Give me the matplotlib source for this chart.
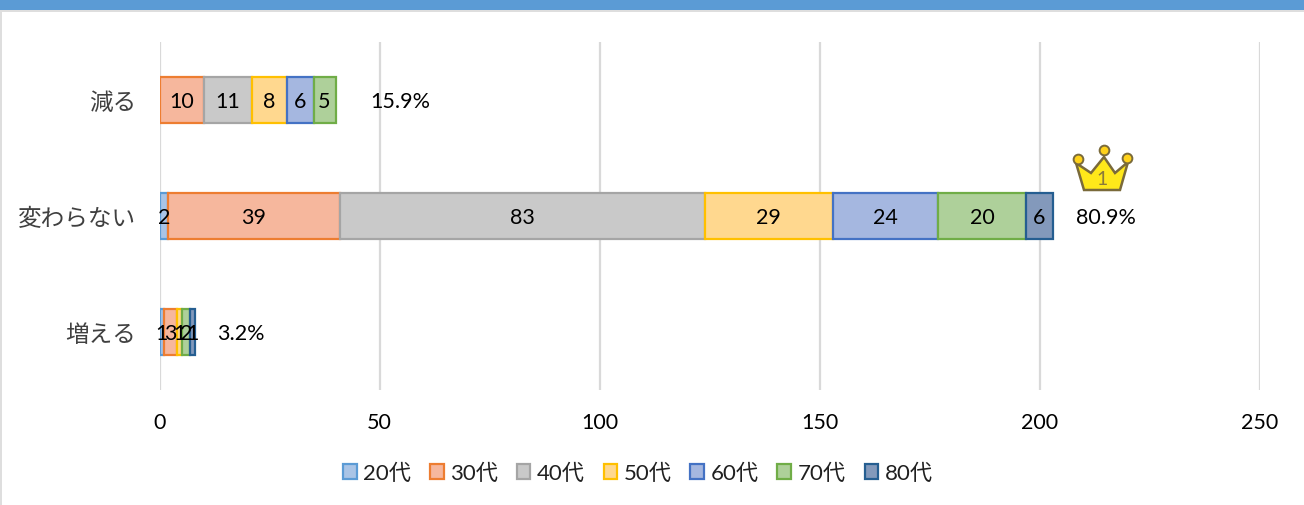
import matplotlib
matplotlib.use("Agg")
import matplotlib.pyplot as plt
from matplotlib.patches import Rectangle, Polygon

plt.rcParams['font.family'] = ['Lato', 'Noto Sans CJK JP', 'DejaVu Sans']

#Data, bottom row first
categories = ['増える', '変わらない', '減る']
series_names = ['20代', '30代', '40代', '50代', '60代', '70代', '80代']
values = {
    '20代': [1, 2, 0],
    '30代': [3, 39, 10],
    '40代': [0, 83, 11],
    '50代': [1, 29, 8],
    '60代': [0, 24, 6],
    '70代': [2, 20, 5],
    '80代': [1, 6, 0],
}
percents = ['3.2%', '80.9%', '15.9%']
x_ticks = [0, 50, 100, 150, 200, 250]

#Fill and edge colours of each age group
fills = ['#a9c4e6', '#f6b79d', '#c9c9c9', '#ffd88f', '#a5b7e0', '#aed09a', '#8399bb']
edges = ['#5b9bd5', '#ed7d31', '#a5a5a5', '#ffc000', '#4472c4', '#70ad47', '#255e91']

W, H = 1304, 506
fig = plt.figure(figsize=(W / 100, H / 100), dpi=100)

#Blue band on top and thin page border
fig.add_artist(Rectangle((0, 1 - 11 / H), 1, 11 / H, transform=fig.transFigure, color='#5b9bd5', lw=0))
fig.add_artist(Rectangle((0, 1 - 13 / H), 1, 2 / H, transform=fig.transFigure, color='#dedede', lw=0))
fig.add_artist(Rectangle((0, 0), 2 / W, 1 - 13 / H, transform=fig.transFigure, color='#dedede', lw=0))

ax = fig.add_axes([159.5 / W, 1 - 391 / H, 1100 / W, 348 / H])
ax.set_xlim(0, 250)
ax.set_ylim(-0.5, 2.5)

left = [0, 0, 0]
for name, fill, edge in zip(series_names, fills, edges):
    vals = values[name]
    #empty segments get no outline, otherwise they show up as a stray line
    widths = [1.6 if v > 0 else 0 for v in vals]
    ax.barh(range(3), vals, left=left, height=0.4, color=fill, edgecolor=edge, linewidth=widths, zorder=3)
    for i, v in enumerate(vals):
        if v > 0:
            ax.text(left[i] + v / 2, i - 0.005, str(v), ha='center', va='center', fontsize=15.5, color='black', zorder=5)
        left[i] += v

#Share of answers written to the right of each bar
pct_offset = [5, 5.2, 8]
for i, p in enumerate(percents):
    ax.text(left[i] + pct_offset[i], i - 0.005, p, ha='left', va='center', fontsize=15.5, color='black', zorder=5)

ax.set_xticks(x_ticks)
ax.set_yticks(range(3))
ax.set_yticklabels(categories, fontsize=17, color='#404040')
ax.tick_params(axis='x', length=0, labelsize=15.5, pad=15.5)
ax.tick_params(axis='y', length=0, pad=17)
ax.grid(axis='x', color='#d9d9d9', linewidth=1.6, zorder=0)
ax.set_axisbelow(True)
for s in ax.spines.values():
    s.set_visible(False)

#Crown above the top bar, in pixel positions of the figure
def px(x, y):
    return (x / W, 1 - y / H)

crown_pts = [(1084, 191), (1076, 164), (1091, 174), (1104, 158), (1115, 174), (1128, 163), (1120, 191)]
fig.add_artist(Polygon([px(*p) for p in crown_pts], closed=True, transform=fig.transFigure,
                       facecolor='#ffe81a', edgecolor='#7a6a3a', linewidth=1.8, zorder=6))
for cx, cy in [(1078, 160), (1104, 151), (1127, 159)]:
    fig.add_artist(plt.Line2D([cx / W], [1 - cy / H], marker='o', markersize=7, markerfacecolor='#ffd21a',
                              markeredgecolor='#7a6a3a', markeredgewidth=1.4, transform=fig.transFigure, zorder=7))
fig.text(1102 / W, 1 - 180 / H, '1', ha='center', va='center', fontsize=14, color='#8a7a3a', zorder=8)

handles = [Rectangle((0, 0), 1, 1, facecolor=f, edgecolor=e, linewidth=1.6) for f, e in zip(fills, edges)]
leg = fig.legend(handles, series_names, loc='center', bbox_to_anchor=(638 / W, 1 - 474 / H), ncol=7, frameon=False,
                 fontsize=16, handlelength=0.62, handleheight=0.62, handletextpad=0.3, columnspacing=0.83, labelcolor='#202020')

fig.savefig('out.png', dpi=100)
